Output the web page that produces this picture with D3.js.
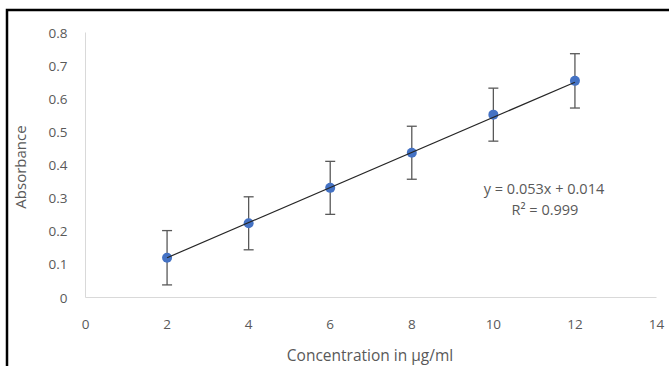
<!DOCTYPE html>
<html>
<head>
<meta charset="utf-8">
<script src="https://cdn.jsdelivr.net/npm/d3@7"></script>
<style>
  body { margin: 0; background: #fff; }
  text { font-family: "Open Sans", "Liberation Sans", sans-serif; fill: #595959; }
</style>
</head>
<body>
<div id="chart"></div>
<script>
// concentrations (µg/ml) and measured absorbance
const conc = [2, 4, 6, 8, 10, 12];
const absorbance = [0.12, 0.224, 0.331, 0.437, 0.552, 0.654];
const errBar = [0.082, 0.08, 0.08, 0.08, 0.08, 0.082];
const xTicks = [0, 2, 4, 6, 8, 10, 12, 14];
const yTicks = [0, 0.1, 0.2, 0.3, 0.4, 0.5, 0.6, 0.7, 0.8];
const slope = 0.053, intercept = 0.014;
const eqLabel = "y = 0.053x + 0.014";
const r2Label = "R² = 0.999";

const width = 669, height = 366;

const svg = d3.select("#chart").append("svg")
  .attr("width", width)
  .attr("height", height);

// black frame (top + left only visible)
svg.append("path")
  .attr("d", "M7,366 L7,10 L669,10")
  .attr("fill", "none")
  .attr("stroke", "#000")
  .attr("stroke-width", 2.5);

const x = d3.scaleLinear().domain([0, 14]).range([85.5, 656.5]);
const y = d3.scaleLinear().domain([0, 0.8]).range([297.5, 32.5]);

// axis lines
svg.append("line")
  .attr("x1", x(0)).attr("x2", x(14))
  .attr("y1", y(0)).attr("y2", y(0))
  .attr("stroke", "#d9d9d9").attr("stroke-width", 1);
svg.append("line")
  .attr("x1", x(0)).attr("x2", x(0))
  .attr("y1", y(0)).attr("y2", y(0.8))
  .attr("stroke", "#d9d9d9").attr("stroke-width", 1);

// tick labels
svg.selectAll(".xt").data(xTicks).join("text")
  .attr("class", "xt")
  .attr("x", d => x(d))
  .attr("y", y(0) + 31)
  .attr("text-anchor", "middle")
  .style("font-size", "13.5px")
  .text(d => d);

svg.selectAll(".yt").data(yTicks).join("text")
  .attr("class", "yt")
  .attr("x", x(0) - 18)
  .attr("y", d => y(d) + 5)
  .attr("text-anchor", "end")
  .style("font-size", "13.5px")
  .text(d => d);

// axis titles
svg.append("text")
  .attr("x", 370)
  .attr("y", 361)
  .attr("text-anchor", "middle")
  .style("font-size", "15.5px")
  .text("Concentration in µg/ml");

svg.append("text")
  .attr("transform", "translate(26,167) rotate(-90)")
  .attr("text-anchor", "middle")
  .style("font-size", "15px")
  .text("Absorbance");

// error bars
const pts = conc.map((c, i) => ({ c: c, a: absorbance[i], e: errBar[i] }));
const eb = svg.append("g").attr("stroke", "#595959").attr("stroke-width", 1.3);
eb.selectAll(".ev").data(pts).join("line")
  .attr("x1", d => x(d.c)).attr("x2", d => x(d.c))
  .attr("y1", d => y(d.a - d.e)).attr("y2", d => y(d.a + d.e));
eb.selectAll(".et").data(pts).join("line")
  .attr("x1", d => x(d.c) - 5).attr("x2", d => x(d.c) + 5)
  .attr("y1", d => y(d.a + d.e)).attr("y2", d => y(d.a + d.e));
eb.selectAll(".eb").data(pts).join("line")
  .attr("x1", d => x(d.c) - 5).attr("x2", d => x(d.c) + 5)
  .attr("y1", d => y(d.a - d.e)).attr("y2", d => y(d.a - d.e));

// markers
svg.selectAll(".pt").data(pts).join("circle")
  .attr("cx", d => x(d.c))
  .attr("cy", d => y(d.a))
  .attr("r", 5)
  .attr("fill", "#4472c4");

// linear trendline
const x0 = d3.min(conc), x1 = d3.max(conc);
svg.append("line")
  .attr("x1", x(x0)).attr("y1", y(slope * x0 + intercept))
  .attr("x2", x(x1)).attr("y2", y(slope * x1 + intercept))
  .attr("stroke", "#262626").attr("stroke-width", 1.2);

// equation label
svg.append("text")
  .attr("x", 544).attr("y", 194)
  .attr("text-anchor", "middle")
  .style("font-size", "14.5px")
  .text(eqLabel);
svg.append("text")
  .attr("x", 545).attr("y", 215)
  .attr("text-anchor", "middle")
  .style("font-size", "14.5px")
  .text(r2Label);
</script>
</body>
</html>
